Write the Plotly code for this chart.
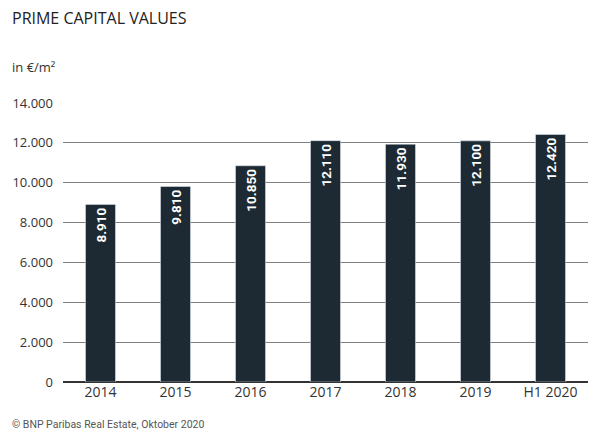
import plotly.graph_objects as go

# prime capital values, in EUR per sqm
categories = ["2014", "2015", "2016", "2017", "2018", "2019", "H1 2020"]
values = [8910, 9810, 10850, 12110, 11930, 12100, 12420]
y_ticks = [0, 2000, 4000, 6000, 8000, 10000, 12000, 14000]

BAR_COLOR = "#1d2a34"
FONT = "Open Sans, Roboto, sans-serif"

# plot area on screen (page body has an 8px margin)
PX0, PX1, PY0, PY1 = 63, 588, 103, 382


def to_paper(px, py):
    return (px - PX0) / (PX1 - PX0), (PY1 - py) / (PY1 - PY0)


fig = go.Figure()
fig.add_trace(go.Bar(
    x=categories, y=values,
    marker_color=BAR_COLOR, width=0.4,
    texttemplate="%{y:,}", textposition="inside", insidetextanchor="end",
    textangle=-90,
    textfont=dict(color="white", size=13.5, family="Roboto, sans-serif", weight="bold"),
))

notes = [
    ("PRIME CAPITAL VALUES", 10, 18, 16, "#222222", FONT),
    ("in €/m²", 10, 67, 13, "#333333", FONT),
    ("© BNP Paribas Real Estate, Oktober 2020", 10, 424, 10.5, "#555555", "Roboto, sans-serif"),
]
annotations = []
for text, px, py, size, color, family in notes:
    x, y = to_paper(px, py)
    annotations.append(dict(text=text, x=x, y=y, xref="paper", yref="paper",
                            xanchor="left", yanchor="middle", showarrow=False,
                            font=dict(size=size, color=color, family=family)))

fig.update_layout(
    width=600, height=442,
    margin=dict(l=PX0 - 8, r=600 + 8 - PX1, t=PY0 - 8, b=442 + 8 - PY1),
    paper_bgcolor="white", plot_bgcolor="white",
    separators=",.",
    showlegend=False,
    font=dict(family=FONT, color="#333333"),
    xaxis=dict(tickfont=dict(size=14, color="#333333"), ticks="", showline=False,
               automargin=False),
    yaxis=dict(range=[0, 14000], tickvals=y_ticks, tickformat=",",
               showgrid=True, gridcolor="#808080", gridwidth=1.4,
               zeroline=True, zerolinecolor="#333333", zerolinewidth=1.8,
               tickfont=dict(size=13, color="#333333"), ticklabelstandoff=9,
               automargin=False),
    annotations=annotations,
)

fig.write_html("out.html")
